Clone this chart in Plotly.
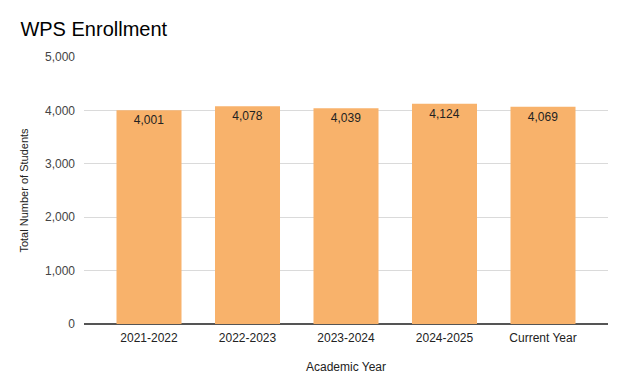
import plotly.graph_objects as go

years = ["2021-2022", "2022-2023", "2023-2024", "2024-2025", "Current Year"]
students = [4001, 4078, 4039, 4124, 4069]
labels = [f"{v:,}" for v in students]

fig = go.Figure(go.Bar(
    x=years, y=students, text=labels, textposition="inside",
    insidetextanchor="end", textangle=0,
    textfont=dict(family="Liberation Sans, Arial", size=12, color="#222222"),
    marker=dict(color="#F8B26B", line=dict(width=0)),
    width=0.66, cliponaxis=False,
))

fig.update_layout(
    width=620, height=382,
    margin=dict(l=76, r=20, t=49, b=66),
    paper_bgcolor="white", plot_bgcolor="white",
    font=dict(family="Liberation Sans, Arial", size=12, color="#444444"),
    title=dict(text="WPS Enrollment", x=0.02, xanchor="left", y=0.945, yanchor="middle",
               font=dict(size=20, color="#000000")),
    showlegend=False,
    uniformtext=dict(minsize=8, mode="show"),
)
fig.update_xaxes(
    range=[-0.66, 4.66], showgrid=False, showline=False, ticks="",
    tickfont=dict(size=12, color="#222222"), ticklabelstandoff=5,
    title=dict(text="Academic Year", font=dict(size=12, color="#222222"), standoff=18),
)
fig.update_yaxes(
    range=[0, 5000], dtick=1000, tickformat=",", showgrid=True, gridcolor="#DADADA",
    zeroline=True, zerolinecolor="#555555", zerolinewidth=1.5,
    tickfont=dict(size=12, color="#444444"), ticks="", ticklabelstandoff=8,
    title=dict(text="Total Number of Students", font=dict(size=11, color="#222222"), standoff=14),
)

fig.write_html("out.html")
